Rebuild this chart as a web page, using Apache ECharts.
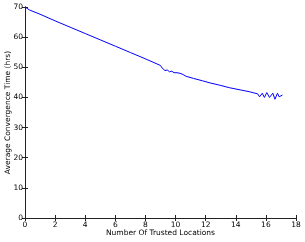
<!DOCTYPE html>
<html><head><meta charset="utf-8">
<script src="https://cdn.jsdelivr.net/npm/echarts@6/dist/echarts.min.js"></script>
<style>html,body{margin:0;padding:0;background:#fff}#c{width:305px;height:242px}</style>
</head><body><div id="c"></div>
<script>
var xValues = [0, 0.1, 0.3, 1, 2, 3, 4, 5, 6, 7, 8, 9, 9.1, 9.2, 9.3, 9.45, 9.6, 9.75, 9.9, 10.1, 10.3, 10.5, 10.7, 11.2, 11.8, 12.3, 12.9, 13.6, 14.3, 14.9, 15.2, 15.45, 15.58, 15.76, 15.9, 16.06, 16.24, 16.46, 16.6, 16.77, 16.88, 17.1];
var yValues = [70, 69.5, 69.0, 67.6, 65.4, 63.3, 61.2, 59.1, 57.0, 54.9, 52.8, 50.6, 49.8, 50.3, 48.9, 49.1, 48.5, 48.7, 48.2, 48.2, 48.0, 47.6, 47.0, 46.3, 45.5, 44.8, 44.1, 43.2, 42.5, 41.9, 41.5, 41.2, 40.2, 41.4, 40.0, 41.6, 40.0, 41.4, 39.4, 41.4, 40.2, 40.8];
var xTicks = [0, 2, 4, 6, 8, 10, 12, 14, 16, 18];
var yTicks = [0, 10, 20, 30, 40, 50, 60, 70];
var xTitle = 'Number Of Trusted Locations';
var yTitle = 'Average Convergence Time (hrs)';

var pts = xValues.map(function(x, i){ return [x, yValues[i]]; });
var font = 'DejaVu Sans';
var fs = 7.5;
var axLine = {show: true, lineStyle: {color: '#222', width: 1}};
var tick = {show: true, inside: true, length: 3, lineStyle: {color: '#222'}};
var chart = echarts.init(document.getElementById('c'), null, {renderer: 'canvas'});
chart.setOption({
  animation: false,
  grid: {left: 25, right: 9, top: 7, bottom: 24, containLabel: false, outerBoundsMode: 'none'},
  xAxis: [{
    type: 'value', min: xTicks[0], max: xTicks[xTicks.length-1], interval: 2,
    name: xTitle, nameLocation: 'middle', nameGap: 11, nameMoveOverlap: false,
    nameTextStyle: {fontFamily: font, fontSize: fs, color: '#000'},
    axisLine: axLine, axisTick: tick, splitLine: {show: false},
    axisLabel: {fontFamily: font, fontSize: fs, color: '#000', margin: 3}
  }, {
    type: 'value', position: 'top', min: xTicks[0], max: xTicks[xTicks.length-1], interval: 2,
    axisLine: axLine, axisTick: tick, splitLine: {show: false}, axisLabel: {show: false}
  }],
  yAxis: [{
    type: 'value', min: yTicks[0], max: yTicks[yTicks.length-1], interval: 10,
    name: yTitle, nameLocation: 'middle', nameGap: 13, nameMoveOverlap: false,
    nameTextStyle: {fontFamily: font, fontSize: fs, color: '#000'},
    axisLine: axLine, axisTick: tick, splitLine: {show: false},
    axisLabel: {fontFamily: font, fontSize: fs, color: '#000', margin: 2}
  }, {
    type: 'value', position: 'right', min: yTicks[0], max: yTicks[yTicks.length-1], interval: 10,
    axisLine: axLine, axisTick: tick, splitLine: {show: false}, axisLabel: {show: false}
  }],
  series: [{
    type: 'line', data: pts, showSymbol: false, symbol: 'none',
    lineStyle: {color: '#0000ff', width: 1}
  }]
});
</script></body></html>
